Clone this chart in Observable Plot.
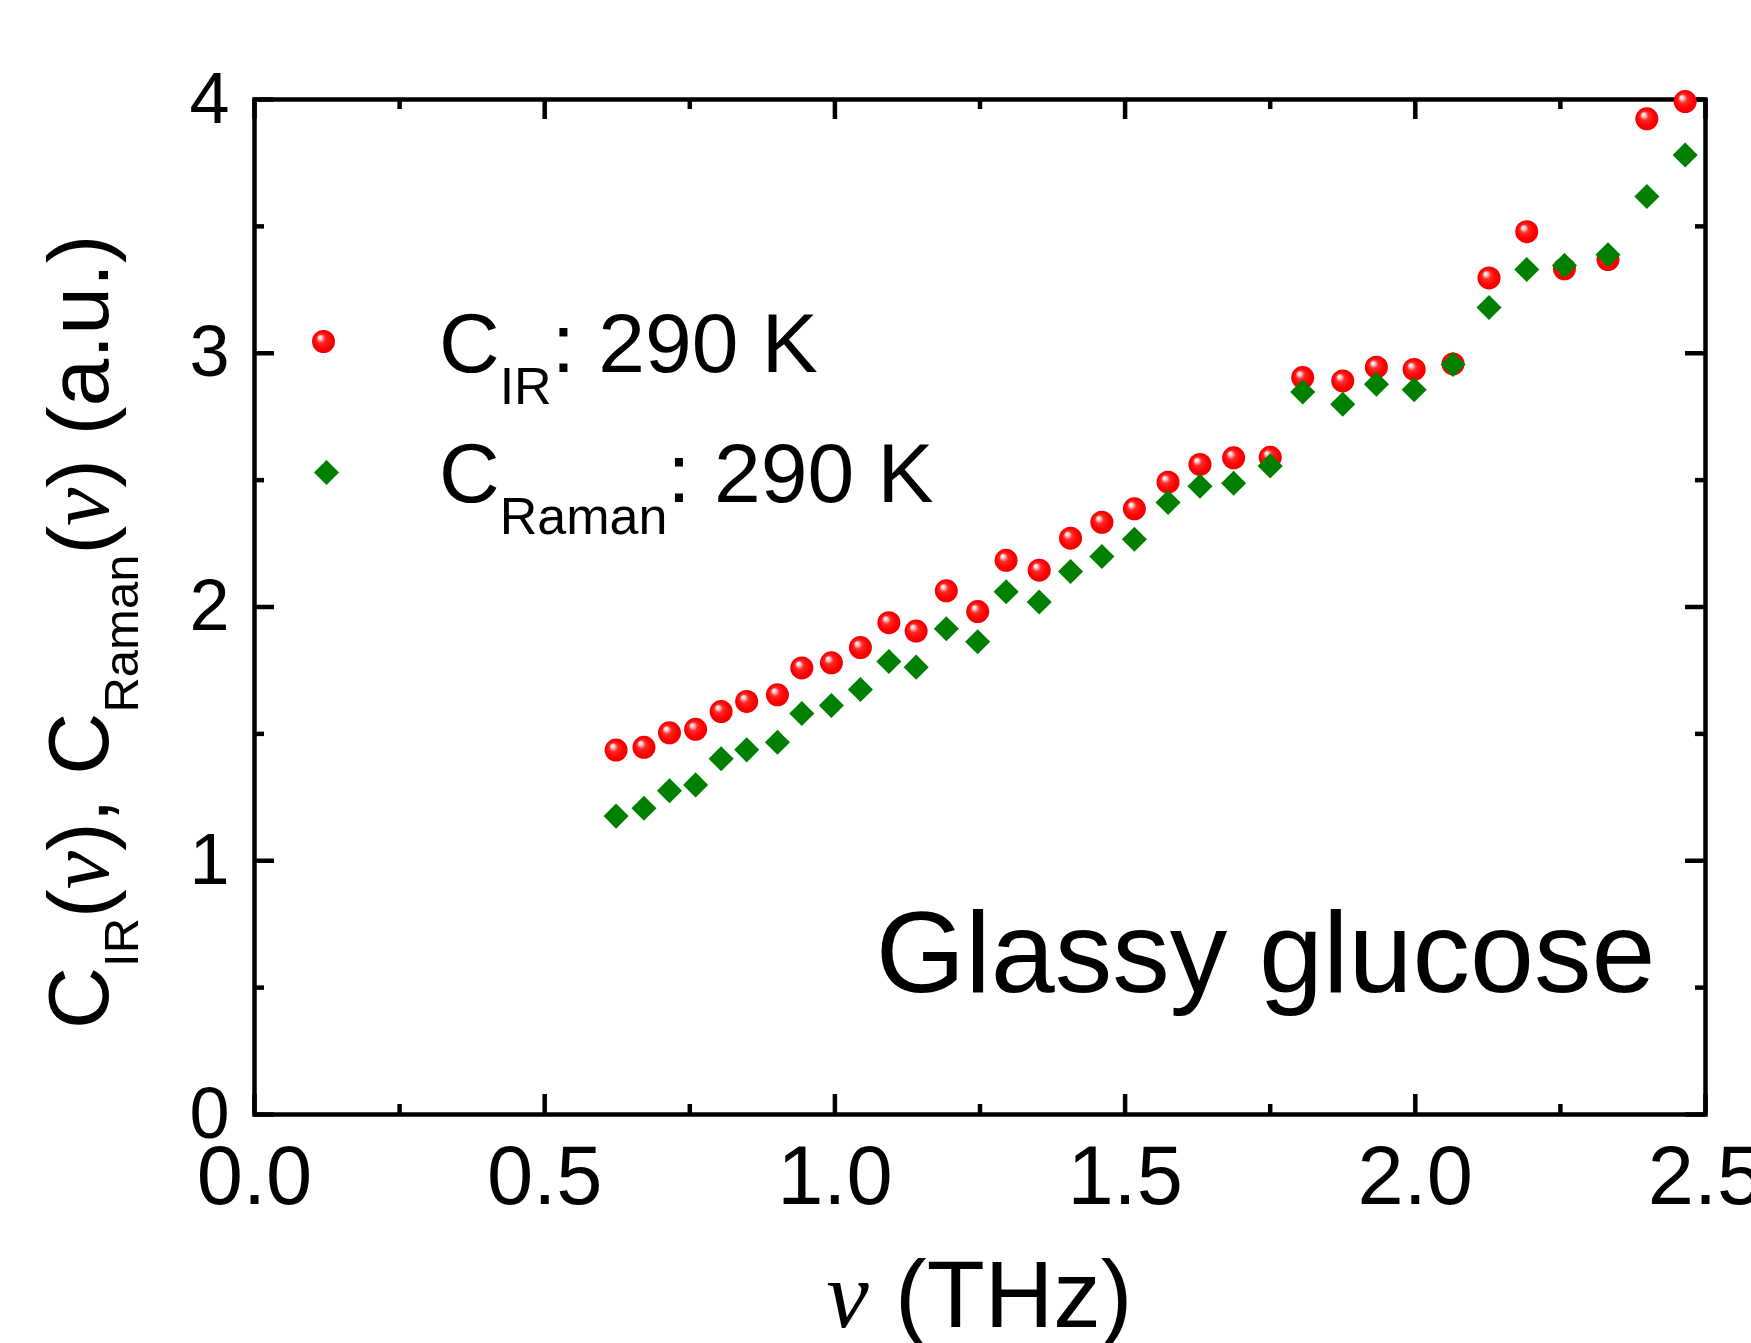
<!DOCTYPE html>
<html>
<head>
<meta charset="utf-8">
<script src="https://cdn.jsdelivr.net/npm/d3@7"></script>
<script src="https://cdn.jsdelivr.net/npm/@observablehq/plot@0.6"></script>
<style>
  html, body { margin: 0; padding: 0; background: #fff; overflow: hidden; }
  #chart svg { display: block; }
</style>
</head>
<body>
<div id="chart"></div>
<script>
// Frequency (THz) shared by both spectra
const frequency = [0.623, 0.671, 0.715, 0.760, 0.804, 0.848, 0.901, 0.943, 0.994, 1.044,
                   1.093, 1.140, 1.192, 1.246, 1.295, 1.352, 1.406, 1.460, 1.516, 1.574,
                   1.629, 1.687, 1.750, 1.806, 1.875, 1.933, 1.998, 2.065, 2.127, 2.192,
                   2.257, 2.332, 2.399, 2.465];
// Coupling coefficient from infrared absorption, 290 K
const cIR = [1.436, 1.447, 1.504, 1.518, 1.588, 1.628, 1.654, 1.760, 1.780, 1.840,
             1.938, 1.905, 2.064, 1.982, 2.184, 2.145, 2.271, 2.334, 2.387, 2.492,
             2.562, 2.588, 2.590, 2.904, 2.891, 2.945, 2.936, 2.958, 3.297, 3.479,
             3.333, 3.369, 3.924, 3.992];
// Coupling coefficient from Raman scattering, 290 K
const cRaman = [1.176, 1.207, 1.276, 1.299, 1.402, 1.437, 1.467, 1.580, 1.612, 1.675,
                1.785, 1.763, 1.914, 1.863, 2.060, 2.020, 2.140, 2.199, 2.267, 2.412,
                2.476, 2.488, 2.556, 2.847, 2.799, 2.878, 2.856, 2.956, 3.180, 3.330,
                3.346, 3.388, 3.618, 3.781];

const xMajorTicks = [0, 0.5, 1.0, 1.5, 2.0, 2.5];
const xMinorTicks = [0.25, 0.75, 1.25, 1.75, 2.25];
const yMajorTicks = [0, 1, 2, 3, 4];
const yMinorTicks = [0.5, 1.5, 2.5, 3.5];

const sampleLabel = "Glassy glucose";

const irPoints = frequency.map((f, i) => ({f, c: cIR[i]}));
const ramanPoints = frequency.map((f, i) => ({f, c: cRaman[i]}));

// Layout
const W = 1751, H = 1343;
const MT = 99, MR = 46, MB = 229, ML = 254;
const plotW = W - ML - MR, plotH = H - MT - MB;
const MAJOR = 20, MINOR = 10, LW = 4.5;
const FONT = "'Liberation Sans', Arial, Helvetica, sans-serif";
const SERIF = "'Liberation Serif', 'Times New Roman', serif";
const RED = "#ff0000", GREEN = "#008000";

const sym = {fill: GREEN, stroke: "none", symbol: "diamond2", r: 11.3};

const chart = Plot.plot({
  width: W,
  height: H,
  marginTop: MT, marginRight: MR, marginBottom: MB, marginLeft: ML,
  style: {fontFamily: FONT, background: "#fff", color: "#000"},
  x: {domain: [0, 2.5]},
  y: {domain: [0, 4]},
  marks: [
    // inward ticks on all four sides
    Plot.ruleX(xMajorTicks, {x: d => d, stroke: "#000", strokeWidth: LW, insetTop: plotH - MAJOR}),
    Plot.ruleX(xMinorTicks, {x: d => d, stroke: "#000", strokeWidth: LW, insetTop: plotH - MINOR}),
    Plot.ruleX(xMajorTicks, {x: d => d, stroke: "#000", strokeWidth: LW, insetBottom: plotH - MAJOR}),
    Plot.ruleX(xMinorTicks, {x: d => d, stroke: "#000", strokeWidth: LW, insetBottom: plotH - MINOR}),
    Plot.ruleY(yMajorTicks, {y: d => d, stroke: "#000", strokeWidth: LW, insetRight: plotW - MAJOR}),
    Plot.ruleY(yMinorTicks, {y: d => d, stroke: "#000", strokeWidth: LW, insetRight: plotW - MINOR}),
    Plot.ruleY(yMajorTicks, {y: d => d, stroke: "#000", strokeWidth: LW, insetLeft: plotW - MAJOR}),
    Plot.ruleY(yMinorTicks, {y: d => d, stroke: "#000", strokeWidth: LW, insetLeft: plotW - MINOR}),
    Plot.frame({stroke: "#000", strokeWidth: LW}),
    Plot.axisX(xMajorTicks, {tickSize: 0, tickPadding: 31, fontSize: 83, tickFormat: d3.format(".1f"), label: null}),
    Plot.axisY(yMajorTicks, {tickSize: 0, tickPadding: 25, fontSize: 72, tickFormat: d3.format("d"), label: null}),
    // data
    Plot.dot(irPoints, {x: "f", y: "c", r: 11.5, fill: "url(#sphere)", stroke: "none"}),
    Plot.dot(ramanPoints, {x: "f", y: "c", ...sym}),
    // legend symbols
    Plot.dot([0], {frameAnchor: "top-left", dx: 69, dy: 242, r: 11.5, fill: "url(#sphere)", stroke: "none"}),
    Plot.dot([0], {frameAnchor: "top-left", dx: 72, dy: 373, ...sym}),
    // sample annotation
    Plot.text([sampleLabel], {frameAnchor: "bottom-right", text: d => d, textAnchor: "end", lineAnchor: "top", dx: -50, dy: -204, fontSize: 115})
  ]
});

const svg = d3.select(chart);

// shaded sphere fill for the infrared markers
const grad = svg.insert("defs", ":first-child")
  .append("radialGradient")
  .attr("id", "sphere")
  .attr("cx", "0.5").attr("cy", "0.5").attr("r", "0.5")
  .attr("fx", "0.33").attr("fy", "0.3");
grad.append("stop").attr("offset", "0").attr("stop-color", "#ffffff");
grad.append("stop").attr("offset", "0.14").attr("stop-color", "#ffd8d8");
grad.append("stop").attr("offset", "0.38").attr("stop-color", "#ff2a2a");
grad.append("stop").attr("offset", "0.75").attr("stop-color", RED);
grad.append("stop").attr("offset", "1").attr("stop-color", "#f20000");

// text with subscripts and a serif italic ν
function label(g, parts, size, subSize, shift) {
  let off = 0;
  for (const p of parts) {
    const t = g.append("tspan").text(p.text);
    if (p.sub) {
      t.attr("font-size", subSize).attr("dy", shift - off);
      off = shift;
    } else {
      t.attr("font-size", size).attr("dy", -off);
      off = 0;
    }
    if (p.nu) t.attr("font-family", SERIF).attr("font-style", "italic");
  }
}

const legend = [
  {y: 372, parts: [{text: "C"}, {text: "IR", sub: true}, {text: ": 290 K"}]},
  {y: 502, parts: [{text: "C"}, {text: "Raman", sub: true}, {text: ": 290 K"}]}
];
for (const item of legend) {
  const t = svg.append("text")
    .attr("x", 439).attr("y", item.y)
    .attr("text-anchor", "start")
    .attr("font-family", FONT).attr("fill", "#000");
  label(t, item.parts, 84, 52, 32);
}

// x axis title, centred under the frame
const xt = svg.append("text")
  .attr("x", ML + plotW / 2).attr("y", 1327)
  .attr("text-anchor", "middle")
  .attr("font-family", FONT).attr("fill", "#000");
label(xt, [{text: "ν", nu: true}, {text: " (THz)"}], 95, 95, 0);

// y axis title, rotated
const yt = svg.append("text")
  .attr("transform", "translate(108,1029) rotate(-90)")
  .attr("text-anchor", "start")
  .attr("font-family", FONT).attr("fill", "#000");
label(yt, [
  {text: "C"}, {text: "IR", sub: true}, {text: "("}, {text: "ν", nu: true}, {text: "), C"},
  {text: "Raman", sub: true}, {text: "("}, {text: "ν", nu: true}, {text: ") (a.u.)"}
], 86, 49, 30);

document.getElementById("chart").append(chart);
</script>
</body>
</html>
